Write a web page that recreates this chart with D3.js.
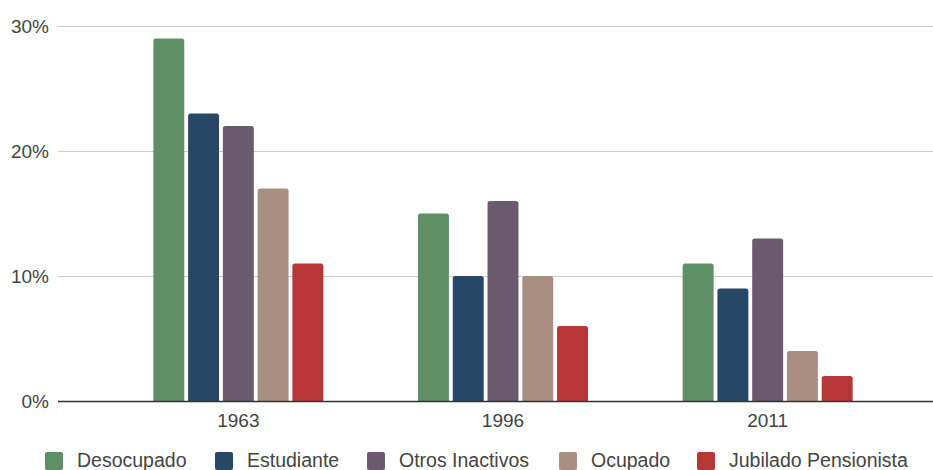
<!DOCTYPE html>
<html>
<head>
<meta charset="utf-8">
<script src="https://cdn.jsdelivr.net/npm/d3@7"></script>
<style>
  html, body { margin: 0; padding: 0; background: #fff; }
  svg { display: block; font-family: "Liberation Sans", Arial, sans-serif; }
</style>
</head>
<body>
<svg id="chart" width="933" height="470"></svg>
<script>
// Years on the x axis
const years = ["1963", "1996", "2011"];
// Occupation status series
const seriesNames = ["Desocupado", "Estudiante", "Otros Inactivos", "Ocupado", "Jubilado Pensionista"];
const seriesColors = ["#5f8f65", "#264866", "#6a5a6e", "#a98f82", "#b93638"];
// Percentages per series, one value per year
const desocupado = [29, 15, 11];
const estudiante = [23, 10, 9];
const otrosInactivos = [22, 16, 13];
const ocupado = [17, 10, 4];
const jubilado = [11, 6, 2];
const seriesValues = [desocupado, estudiante, otrosInactivos, ocupado, jubilado];
// Y axis ticks
const yTicks = [0, 10, 20, 30];

const svg = d3.select("#chart");
const gridLeft = 58, gridRight = 933;
const y = d3.scaleLinear().domain([0, 30]).range([401, 26]);
const x0 = d3.scaleBand().domain(years).range([106, 900]).paddingInner(0).paddingOuter(0);
const groupWidth = 170;
const x1 = d3.scaleBand().domain(seriesNames).range([0, groupWidth]).paddingInner(0.11);
const groupOffset = (x0.bandwidth() - groupWidth) / 2;

// Gridlines and y labels
const grid = svg.append("g");
grid.selectAll("line.grid").data(yTicks.filter(d => d > 0)).join("line")
  .attr("x1", gridLeft).attr("x2", gridRight)
  .attr("y1", d => y(d) + 0.5).attr("y2", d => y(d) + 0.5)
  .attr("stroke", "#cccccc").attr("stroke-width", 1);
grid.selectAll("text").data(yTicks).join("text")
  .attr("x", 49).attr("y", d => y(d) + 6.5)
  .attr("text-anchor", "end").attr("font-size", 19).attr("fill", "#444")
  .text(d => d + "%");

// Bars with rounded tops
const rounded = (xp, yp, w, h, r) => {
  r = Math.min(r, h);
  return `M${xp},${yp + h}V${yp + r}Q${xp},${yp} ${xp + r},${yp}H${xp + w - r}Q${xp + w},${yp} ${xp + w},${yp + r}V${yp + h}Z`;
};
const groups = svg.append("g").selectAll("g").data(years).join("g")
  .attr("transform", d => `translate(${x0(d) + groupOffset},0)`);
groups.selectAll("path").data((d, i) => seriesNames.map((s, k) => ({ s, k, v: seriesValues[k][i] })))
  .join("path")
  .attr("d", d => rounded(x1(d.s), y(d.v), x1.bandwidth(), y(0) - y(d.v), 2.5))
  .attr("fill", d => seriesColors[d.k]);

// Baseline
svg.append("line").attr("x1", gridLeft).attr("x2", gridRight)
  .attr("y1", y(0) + 0.5).attr("y2", y(0) + 0.5)
  .attr("stroke", "#333").attr("stroke-width", 1.4);

// X axis labels
svg.append("g").selectAll("text").data(years).join("text")
  .attr("x", d => x0(d) + x0.bandwidth() / 2).attr("y", 427)
  .attr("text-anchor", "middle").attr("font-size", 19).attr("fill", "#444")
  .text(d => d);

// Legend
const legendX = [45, 215, 367, 559, 697];
const legend = svg.append("g").selectAll("g").data(seriesNames).join("g")
  .attr("transform", (d, i) => `translate(${legendX[i]},451)`);
legend.append("rect").attr("width", 18).attr("height", 18).attr("rx", 2).attr("y", 1).attr("fill", (d, i) => seriesColors[i]);
legend.append("text").attr("x", 32).attr("y", 16).attr("font-size", 19.5).attr("fill", "#444").text(d => d);
</script>
</body>
</html>
